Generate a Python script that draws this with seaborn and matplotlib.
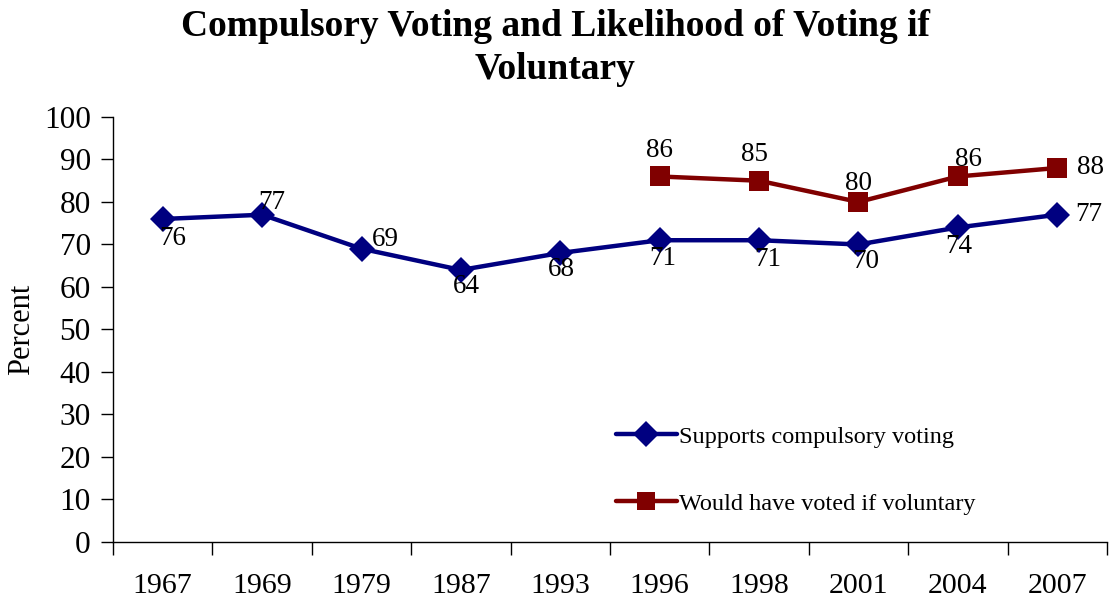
import numpy as np
import pandas as pd
import matplotlib
matplotlib.use("Agg")
import matplotlib.pyplot as plt
import seaborn as sns

years = ["1967", "1969", "1979", "1987", "1993", "1996", "1998", "2001", "2004", "2007"]
supports = [76, 77, 69, 64, 68, 71, 71, 70, 74, 77]
vol_years = ["1996", "1998", "2001", "2004", "2007"]
voluntary = [86, 85, 80, 86, 88]

s1 = "Supports compulsory voting"
s2 = "Would have voted if voluntary"

sns.set_theme(style="white")
plt.rcParams["font.family"] = ["Liberation Serif", "DejaVu Serif"]
for k in ["text.color", "axes.labelcolor", "xtick.color", "ytick.color"]:
    plt.rcParams[k] = "black"

df = pd.concat([
    pd.DataFrame({"year": years, "pos": np.arange(len(years)), "value": supports, "series": s1}),
    pd.DataFrame({"year": vol_years, "pos": [years.index(y) for y in vol_years], "value": voluntary, "series": s2}),
])

fig = plt.figure(figsize=(11.17, 6.08), dpi=100)
ax = fig.add_axes([0.1012, 0.1086, 0.8898, 0.699])

blue = "#000080"
red = "#800000"
sns.lineplot(data=df, x="pos", y="value", hue="series", style="series",
             markers={s1: "D", s2: "s"}, dashes=False,
             palette={s1: blue, s2: red}, linewidth=3.2, markersize=13,
             markeredgewidth=0, ax=ax, legend=True)
for ln in ax.lines:
    if ln.get_marker() == "s":
        ln.set_markersize(14)

# label offsets in points (styling, not data)
off1 = [(7, -14), (7, 9), (17, 7), (4, -12), (1, -12), (2, -13), (6, -14), (5, -12), (1, -14), (23, 0)]
off2 = [(0, 19), (-3, 19), (0, 13), (8, 12), (24, 0)]
for i, v in enumerate(supports):
    ax.annotate(str(v), (i, v), xytext=off1[i], textcoords="offset points",
                ha="center", va="center", fontsize=19.5, color="black")
for y, v, o in zip(vol_years, voluntary, off2):
    ax.annotate(str(v), (years.index(y), v), xytext=o, textcoords="offset points",
                ha="center", va="center", fontsize=19.5, color="black")

ax.set_xlim(-0.5, len(years) - 0.5)
ax.set_ylim(0, 100)
ax.set_yticks(range(0, 101, 10))
ax.set_xticks(np.arange(len(years) + 1) - 0.5)
ax.set_xticklabels([])
ax.set_xticks(np.arange(len(years)), minor=True)
ax.set_xticklabels(years, minor=True)
ax.tick_params(axis="x", which="major", direction="out", length=9, width=1, color="black", bottom=True)
ax.tick_params(axis="x", which="minor", length=0, pad=22, labelsize=21.5)
ax.tick_params(axis="y", direction="out", length=9, width=1, color="black", left=True, pad=7, labelsize=22.5)
for s in ["top", "right"]:
    ax.spines[s].set_visible(False)
for s in ["left", "bottom"]:
    ax.spines[s].set_color("black")
    ax.spines[s].set_linewidth(1)
ax.set_xlabel("")
ax.set_ylabel("Percent", fontsize=22, labelpad=6)

leg = ax.legend(loc="upper left", bbox_to_anchor=(0.484, 0.325), frameon=False,
                fontsize=17.5, labelspacing=1.85, handlelength=2.5, handletextpad=0.1)
for h in leg.legend_handles:
    h.set_linewidth(3.2)
    h.set_markersize(13)

fig.text(0.497, 0.985, "Compulsory Voting and Likelihood of Voting if\nVoluntary",
         ha="center", va="top", fontsize=27, fontweight="bold", linespacing=1.3)

fig.savefig("out.png", dpi=100)
